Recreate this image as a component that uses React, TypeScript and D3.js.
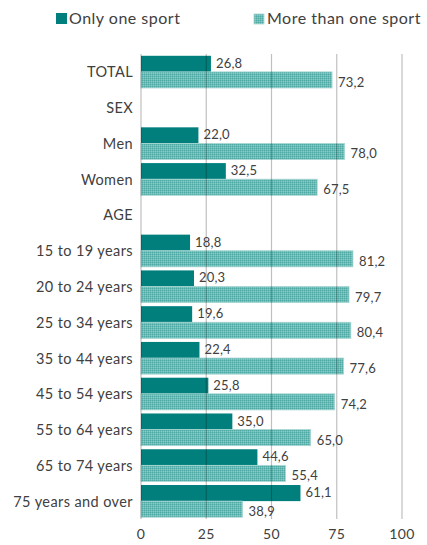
import React from "react";
import * as d3 from "d3";

const categories = ["TOTAL", "SEX", "Men", "Women", "AGE", "15 to 19 years", "20 to 24 years", "25 to 34 years", "35 to 44 years", "45 to 54 years", "55 to 64 years", "65 to 74 years", "75 years and over"];
const oneSport: (number | null)[] = [26.8, null, 22.0, 32.5, null, 18.8, 20.3, 19.6, 22.4, 25.8, 35.0, 44.6, 61.1];
const moreSports: (number | null)[] = [73.2, null, 78.0, 67.5, null, 81.2, 79.7, 80.4, 77.6, 74.2, 65.0, 55.4, 38.9];
const ticks = [0, 25, 50, 75, 100];
const seriesNames = ["Only one sport", "More than one sport"];

const W = 427, H = 545;
const margin = { top: 54, right: 25, bottom: 26, left: 141 };
const FONT = "Lato, 'Open Sans', sans-serif";
const TEXT = "#404040";
const DARK = "#007f7c";

export default function App() {
  const x = d3.scaleLinear().domain([0, 100]).range([margin.left, W - margin.right]);
  const y = d3.scaleBand().domain(categories).range([margin.top, H - margin.bottom]).paddingInner(0.1).paddingOuter(0.05);
  const inner = d3.scaleBand().domain(["a", "b"]).range([0, y.bandwidth()]);
  const fmt = (v: number) => d3.format(".1f")(v).replace(".", ",");
  const barH = inner.bandwidth();

  return (
    <svg width={W} height={H} style={{ position: "absolute", left: 0, top: 0, fontFamily: FONT }}>
      <defs>
        <pattern id="dots" width="2" height="2" patternUnits="userSpaceOnUse">
          <rect width="2" height="2" fill="#6cbab5" />
          <rect width="1" height="1" fill="#4fa9a4" />
          <rect x="1" y="1" width="1" height="1" fill="#8ac9c5" />
        </pattern>
      </defs>
      {/* legend */}
      <rect x={56} y={13} width={11} height={11} fill={DARK} />
      <text x={69} y={24} fontSize={16} letterSpacing={0.5} fill={TEXT}>{seriesNames[0]}</text>
      <rect x={254} y={14} width={10} height={10} fill="url(#dots)" stroke="#a9d6d3" strokeWidth={0.8} />
      <text x={267} y={24} fontSize={16} letterSpacing={0.5} fill={TEXT}>{seriesNames[1]}</text>

      {/* bars */}
      {categories.map((c, i) => {
        const y0 = y(c)!;
        const a = oneSport[i], b = moreSports[i];
        return (
          <g key={c}>
            {a != null && <rect x={x(0)} y={y0 + inner("a")!} width={x(a) - x(0)} height={barH} fill={DARK} />}
            {b != null && <rect x={x(0)} y={y0 + inner("b")!} width={x(b) - x(0)} height={barH} fill="url(#dots)" stroke="#a9d6d3" strokeWidth={0.8} />}
          </g>
        );
      })}

      {/* gridlines on top */}
      {ticks.map(t => (
        <line key={t} x1={x(t)} x2={x(t)} y1={margin.top} y2={H - margin.bottom} stroke="#000" strokeOpacity={0.25} strokeWidth={1.2} />
      ))}

      {/* category labels */}
      {categories.map(c => (
        <text key={c} x={margin.left - 8} y={y(c)! + y.bandwidth() / 2} textAnchor="end" dominantBaseline="central" fontSize={14.5} letterSpacing={0.4} fill={TEXT}>{c}</text>
      ))}

      {/* value labels */}
      {categories.map((c, i) => {
        const y0 = y(c)!;
        const a = oneSport[i], b = moreSports[i];
        return (
          <g key={c + "v"} fontSize={13} letterSpacing={0.2} fill={TEXT}>
            {a != null && <text x={x(a) + 5} y={y0 + inner("a")! + barH / 2 - 1} dominantBaseline="central">{fmt(a)}</text>}
            {b != null && <text x={x(b) + 6} y={y0 + inner("b")! + barH / 2 + 2} dominantBaseline="central">{fmt(b)}</text>}
          </g>
        );
      })}

      {/* x axis labels */}
      {ticks.map(t => (
        <text key={t + "t"} x={x(t)} y={H - 6} textAnchor="middle" fontSize={14} letterSpacing={0.3} fill={TEXT}>{t}</text>
      ))}
    </svg>
  );
}
